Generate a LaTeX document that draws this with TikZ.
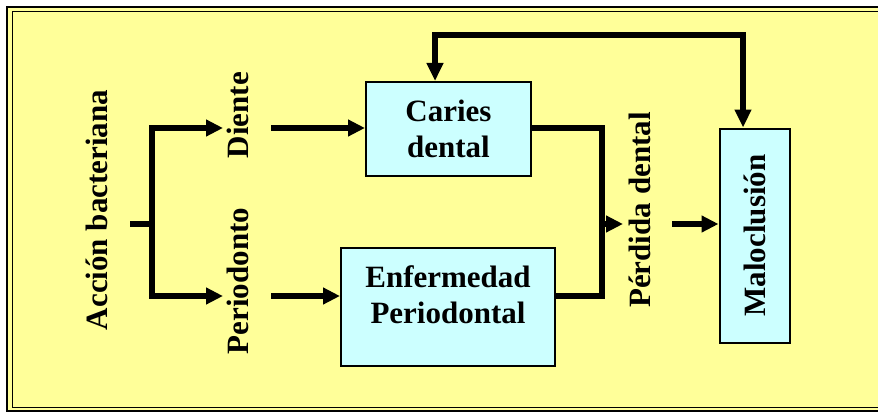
\documentclass[tikz,border=0pt]{standalone}
\usepackage{fontspec}
\setmainfont{Liberation Serif}
\usetikzlibrary{calc, arrows.meta, positioning}
\definecolor{paleyellow}{HTML}{FFFF99}
\definecolor{palecyan}{HTML}{CCFFFF}

\begin{document}
\begin{tikzpicture}[x=1pt, y=-1pt,
        box/.style={draw, line width=2pt, fill=palecyan, inner sep=0pt},
        boxtext/.style={font=\fontsize{31}{36}\selectfont\bfseries, align=center, inner sep=0pt},
        vlabel/.style={rotate=90, font=\fontsize{31}{36}\selectfont\bfseries, inner sep=0pt},
        flow/.style={line width=5.5pt},
        arrow/.style={flow, -{Triangle[length=17pt, width=16pt]}},
        twoway/.style={flow, {Triangle[length=18pt, width=16pt]}-{Triangle[length=18pt, width=16pt]}}]

        \useasboundingbox (0,0) rectangle (878,412);
        \clip (0,0) rectangle (878,412);

        % frame
        \draw[line width=2.5pt, fill=paleyellow] (7,7) rectangle (900,411);
        \draw[line width=1pt] (12,12) rectangle (900,407);

        % labels
        \node[vlabel] (accion) at (97,210) {Acción bacteriana};
        \node[vlabel] (diente) at (238,115) {Diente};
        \node[vlabel] (periodonto) at (238,281) {Periodonto};
        \node[vlabel] (perdida) at (640,210) {Pérdida dental};

        % boxes
        \node[box, boxtext, minimum width=165pt, minimum height=94pt] (caries) at (448.5,129) {Caries\\dental};
        \node[box, minimum width=214pt, minimum height=118pt] (enfermedad) at (448,307) {};
        \node[boxtext] (enftext) at ($(enfermedad.center)+(0,-12)$) {Enfermedad\\Periodontal};
        \node[box, boxtext, minimum width=70pt, minimum height=214pt] (maloclusion) at (754.5,235.5) {\rotatebox{90}{Maloclusión}};

        % fork
        \coordinate (stub) at (130,224);
        \coordinate (fork) at (152,224);
        \coordinate (toDiente) at (223,128);
        \coordinate (toPerio) at (223,296);
        \draw[flow] (stub) -- (fork);
        \draw[arrow] (fork) |- (toDiente);
        \draw[arrow] (fork) |- (toPerio);

        \coordinate (fromDiente) at (271,128);
        \coordinate (fromPerio) at (271,296);
        \draw[arrow] (fromDiente) -- (fromDiente -| caries.west);
        \draw[arrow] (fromPerio) -- (fromPerio -| enfermedad.west);

        % join
        \coordinate (join) at (602,224);
        \coordinate (toPerdida) at (623,224);
        \coordinate (fromPerdida) at (672,224);
        \draw[flow] (caries.east |- fromDiente) -| (join) |- (enfermedad.east |- fromPerio);
        \draw[arrow] (join) -- (toPerdida);
        \draw[arrow] (fromPerdida) -- (fromPerdida -| maloclusion.west);

        % feedback
        \coordinate (topL) at (435,35);
        \coordinate (topR) at (743,35);
        \draw[twoway] (topL |- caries.north) -- (topL) -- (topR) -- (topR |- maloclusion.north);
    \end{tikzpicture}
\end{document}
